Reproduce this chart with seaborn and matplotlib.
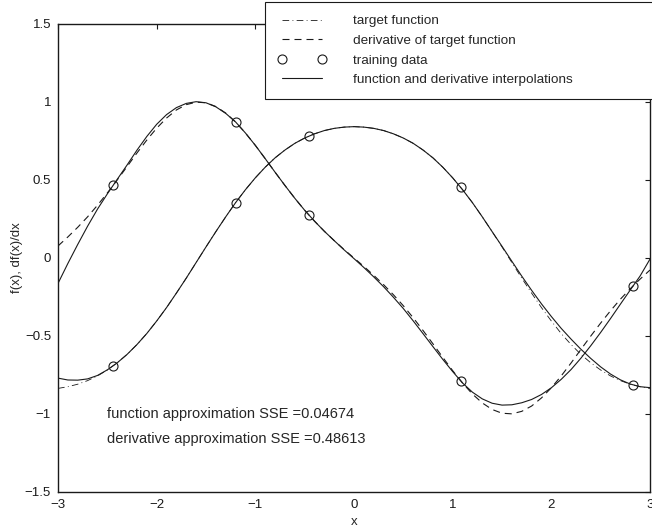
import matplotlib
matplotlib.use("Agg")
import matplotlib.pyplot as plt
from matplotlib.lines import Line2D
from matplotlib.ticker import FuncFormatter, MultipleLocator
import seaborn as sns

# sample positions along x
x_grid = [-3.0, -2.9, -2.8, -2.7, -2.6, -2.5, -2.4, -2.3, -2.2, -2.1, -2.0,
          -1.9, -1.8, -1.7, -1.6, -1.5, -1.4, -1.3, -1.2, -1.1, -1.0,
          -0.9, -0.8, -0.7, -0.6, -0.5, -0.4, -0.3, -0.2, -0.1, 0.0,
          0.1, 0.2, 0.3, 0.4, 0.5, 0.6, 0.7, 0.8, 0.9, 1.0,
          1.1, 1.2, 1.3, 1.4, 1.5, 1.6, 1.7, 1.8, 1.9, 2.0,
          2.1, 2.2, 2.3, 2.4, 2.5, 2.6, 2.7, 2.8, 2.9, 3.0]

# target function (dash-dot)
target_f = [-0.836, -0.825, -0.809, -0.786, -0.756, -0.718, -0.672, -0.618, -0.555, -0.484, -0.404,
            -0.318, -0.225, -0.129, -0.029, 0.071, 0.169, 0.264, 0.355, 0.438, 0.514,
            0.582, 0.642, 0.692, 0.735, 0.769, 0.796, 0.817, 0.831, 0.839, 0.842,
            0.839, 0.831, 0.817, 0.796, 0.769, 0.735, 0.692, 0.642, 0.582, 0.514,
            0.438, 0.355, 0.264, 0.169, 0.071, -0.029, -0.129, -0.225, -0.318, -0.404,
            -0.484, -0.555, -0.618, -0.672, -0.718, -0.756, -0.786, -0.809, -0.825, -0.836]

# derivative of target function (dashed)
target_df = [0.077, 0.135, 0.197, 0.264, 0.338, 0.417, 0.500, 0.586, 0.673, 0.756, 0.832,
             0.897, 0.949, 0.983, 0.999, 0.995, 0.971, 0.929, 0.872, 0.801, 0.722,
             0.637, 0.550, 0.465, 0.383, 0.306, 0.236, 0.171, 0.111, 0.054, 0.0,
             -0.054, -0.111, -0.171, -0.236, -0.306, -0.383, -0.465, -0.550, -0.637, -0.722,
             -0.801, -0.872, -0.929, -0.971, -0.995, -0.999, -0.983, -0.949, -0.897, -0.832,
             -0.756, -0.673, -0.586, -0.500, -0.417, -0.338, -0.264, -0.197, -0.135, -0.077]

# function interpolation (solid)
interp_f = [-0.770, -0.782, -0.783, -0.775, -0.753, -0.717, -0.672, -0.618, -0.555, -0.484, -0.404,
            -0.318, -0.225, -0.129, -0.029, 0.071, 0.169, 0.264, 0.355, 0.438, 0.514,
            0.582, 0.642, 0.692, 0.735, 0.769, 0.796, 0.817, 0.831, 0.839, 0.842,
            0.839, 0.831, 0.817, 0.796, 0.769, 0.735, 0.692, 0.642, 0.582, 0.514,
            0.438, 0.355, 0.264, 0.169, 0.075, -0.021, -0.116, -0.207, -0.294, -0.375,
            -0.451, -0.520, -0.585, -0.644, -0.698, -0.744, -0.781, -0.808, -0.825, -0.831]

# derivative interpolation (solid)
interp_df = [-0.163, -0.035, 0.087, 0.204, 0.313, 0.411, 0.504, 0.596, 0.691, 0.779, 0.857,
             0.919, 0.964, 0.991, 1.002, 0.995, 0.969, 0.927, 0.872, 0.801, 0.722,
             0.637, 0.550, 0.465, 0.383, 0.306, 0.236, 0.171, 0.111, 0.052, -0.004,
             -0.061, -0.121, -0.184, -0.252, -0.324, -0.403, -0.485, -0.568, -0.650, -0.728,
             -0.801, -0.860, -0.903, -0.931, -0.943, -0.941, -0.928, -0.907, -0.875, -0.832,
             -0.778, -0.715, -0.642, -0.562, -0.477, -0.388, -0.296, -0.205, -0.115, -0.007]

# training data
train_x = [-2.44, -1.2, -0.46, 1.08, 2.83]
train_f = [-0.692, 0.355, 0.781, 0.454, -0.814]
train_df = [0.466, 0.872, 0.277, -0.786, -0.178]

sse_f = "0.04674"
sse_df = "0.48613"

sns.set_theme(style="white")
plt.rcParams['font.family'] = ['Liberation Sans', 'DejaVu Sans']
plt.rcParams['axes.unicode_minus'] = True

fig = plt.figure(figsize=(6.52, 5.28), dpi=100)
ax = fig.add_axes([58 / 652, 36 / 528, 592 / 652, 468 / 528])

dashdot = (0, (8, 4, 1, 4))
dashed = (0, (6.3, 4.5))

sns.lineplot(x=x_grid, y=target_f, ax=ax, color='k', lw=0.6, linestyle=dashdot, sort=False)
sns.lineplot(x=x_grid, y=target_df, ax=ax, color='k', lw=0.8, linestyle=dashed, sort=False)
for ty in (train_f, train_df):
    sns.lineplot(x=train_x, y=ty, ax=ax, color='k', linestyle='', marker='o', markersize=6.5,
                 markerfacecolor='none', markeredgecolor='k', markeredgewidth=0.8, sort=False)
sns.lineplot(x=x_grid, y=interp_f, ax=ax, color='k', lw=0.8, sort=False)
sns.lineplot(x=x_grid, y=interp_df, ax=ax, color='k', lw=0.8, sort=False)

ax.set_xlim(-3, 3)
ax.set_ylim(-1.5, 1.5)
ax.xaxis.set_major_locator(MultipleLocator(1))
ax.yaxis.set_major_locator(MultipleLocator(0.5))
fmt = FuncFormatter(lambda v, p: f"{v:g}".replace("-", "\u2212"))
ax.xaxis.set_major_formatter(fmt)
ax.yaxis.set_major_formatter(fmt)
ax.tick_params(direction='in', length=3.6, width=0.8, top=True, right=True,
               labelsize=9.5, colors='k', pad=5)
for s in ax.spines.values():
    s.set_color('k')
    s.set_linewidth(1.0)
ax.grid(False)

ax.set_xlabel('x', fontsize=9.5, labelpad=3.5)
ax.set_ylabel('f(x), df(x)/dx', fontsize=9.5, labelpad=1)

ax.text(-2.5, -1.0, f"function approximation SSE ={sse_f}", fontsize=10.5, va='center')
ax.text(-2.5, -1.16, f"derivative approximation SSE ={sse_df}", fontsize=10.5, va='center')

handles = [
    Line2D([], [], color='k', lw=0.6, linestyle=dashdot),
    Line2D([], [], color='k', lw=0.8, linestyle=dashed),
    Line2D([], [], color='k', linestyle='', marker='o', markersize=6.5,
           markerfacecolor='none', markeredgewidth=0.8),
    Line2D([], [], color='k', lw=0.8),
]
labels = ['target function', 'derivative of target function', 'training data',
          'function and derivative interpolations']
leg = ax.legend(handles, labels, loc='lower left', bbox_to_anchor=(0.3497, 0.840, 0.70, 0.207),
                mode='expand', borderaxespad=0, fontsize=9.7, numpoints=2,
                handlelength=3.6, handletextpad=2.0, borderpad=0.95, labelspacing=0.53,
                fancybox=False, framealpha=1, edgecolor='k')
leg.get_frame().set_linewidth(0.8)
leg.set_clip_on(False)

fig.savefig('out.png', dpi=100)
